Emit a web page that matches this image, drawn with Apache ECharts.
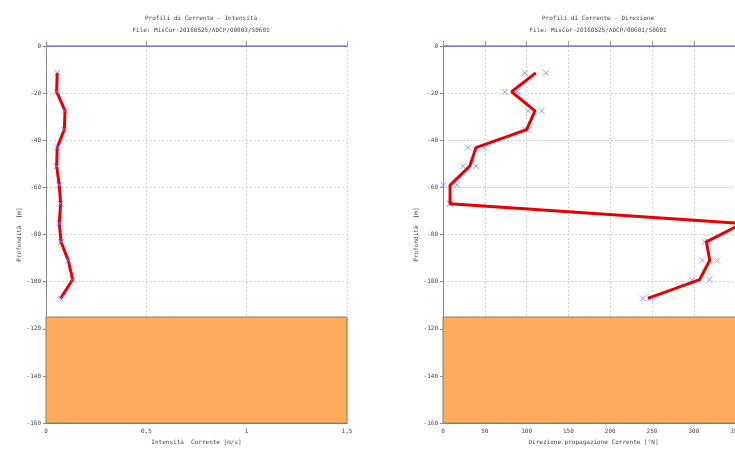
<!DOCTYPE html>
<html>
<head>
<meta charset="utf-8">
<script src="https://cdn.jsdelivr.net/npm/echarts@6/dist/echarts.min.js"></script>
<style>
html,body{margin:0;padding:0;background:#fff;width:735px;height:450px;overflow:hidden;}
#chart{width:790px;height:450px;}
</style>
</head>
<body>
<div id="chart"></div>
<script>
// Depths of the measurement bins [m]
const depths = [-11.4, -19.4, -27.5, -35.5, -43.1, -51.0, -59.0, -66.9, -75.3, -83.1, -91.0, -99.1, -107.1];
// Current intensity [m/s]
const intensity = [0.056, 0.053, 0.095, 0.091, 0.056, 0.053, 0.066, 0.073, 0.066, 0.075, 0.111, 0.133, 0.073];
// Mean current direction [°N]
const direction = [111, 82, 110, 100, 39.5, 32, 8.5, 8.4, 358, 315, 319, 307, 245];
// Individual direction samples (two per depth)
const directionA = [98, 74, 102, 98, 30, 24, 0.5, 8.4, 356, 313, 310, 298, 239];
const directionB = [123, 89, 118, 102, 49, 39.5, 17, 8.4, 360, 317, 328, 318.5, 248];
// Seabed depth [m]
const seabedTop = -115;
const seabedBottom = -160;

const titleLeft = 'Profili di Corrente - Intensità';
const titleRight = 'Profili di Corrente - Direzione';
const subtitleLeft = 'File: MisCor-20160525/ADCP/00003/S0601';
const subtitleRight = 'File: MisCor-20160525/ADCP/00601/S0601';
const xNameLeft = 'Intensità  Corrente [m/s]';
const xNameRight = 'Direzione propagazione Corrente [°N]';
const yName = 'Profondità  [m]';

const pairs = (xs) => xs.map((v, i) => [v, depths[i]]);

const FONT = 'DejaVu Sans Mono';
const TXT = '#444';
const crossPath = 'path://M0,0L10,10M10,0L0,10';

const chart = echarts.init(document.getElementById('chart'), null, {renderer: 'canvas'});

function yAxisFor(gi) {
  return {
    type: 'value', gridIndex: gi, min: -160, max: 0, interval: 20,
    name: yName, nameLocation: 'middle', nameGap: 24, nameRotate: 90,
    nameTextStyle: {fontFamily: FONT, fontSize: 6, color: TXT},
    axisLine: {show: true, lineStyle: {color: '#888', width: 1}},
    axisTick: {show: true, inside: false, length: 3, lineStyle: {color: '#888'}},
    axisLabel: {fontFamily: FONT, fontSize: 6, color: TXT, margin: 5},
    splitLine: {show: true, lineStyle: {color: '#d0d0d0', type: [2, 2], width: 1}}
  };
}
function yMirror(gi) {
  return {
    type: 'value', gridIndex: gi, min: -160, max: 0, interval: 20, position: 'right',
    axisLine: {show: true, lineStyle: {color: '#888'}},
    axisTick: {show: false}, axisLabel: {show: false}, splitLine: {show: false}
  };
}
function xAxisFor(gi, max, interval, name, fmt) {
  return {
    type: 'value', gridIndex: gi, min: 0, max: max, interval: interval,
    name: name, nameLocation: 'middle', nameGap: 14,
    nameTextStyle: {fontFamily: FONT, fontSize: 6, color: TXT},
    axisLine: {show: true, onZero: false, lineStyle: {color: '#888', width: 1}},
    axisTick: {show: false},
    axisLabel: {fontFamily: FONT, fontSize: 6, color: TXT, margin: 5, formatter: fmt},
    splitLine: {show: true, lineStyle: {color: '#d0d0d0', type: [2, 2], width: 1}}
  };
}
function xTop(gi, max, interval) {
  return {
    type: 'value', gridIndex: gi, min: 0, max: max, interval: interval, position: 'top',
    axisLine: {show: true, onZero: false, lineStyle: {color: '#888'}},
    axisTick: {show: true, inside: false, length: 5, lineStyle: {color: '#999'}},
    axisLabel: {show: false}, splitLine: {show: false}
  };
}

function decorations() {
  return {
    markLine: {
      silent: true, symbol: 'none', label: {show: false},
      lineStyle: {color: '#7f7fdf', width: 1.5, type: 'solid'},
      data: [{yAxis: 0}]
    },
    markArea: {
      silent: true,
      itemStyle: {color: '#ffad5c', borderColor: '#8a7a6a', borderWidth: 1},
      data: [[{yAxis: seabedTop}, {yAxis: seabedBottom}]]
    }
  };
}

const option = {
  animation: false,
  backgroundColor: '#fff',
  title: [
    {text: titleLeft, subtext: subtitleLeft, left: 196, top: 10, textAlign: 'center', itemGap: 6,
     textStyle: {fontFamily: FONT, fontSize: 6, fontWeight: 'normal', color: TXT},
     subtextStyle: {fontFamily: FONT, fontSize: 6, color: TXT}},
    {text: titleRight, subtext: subtitleRight, left: 593, top: 10, textAlign: 'center', itemGap: 6,
     textStyle: {fontFamily: FONT, fontSize: 6, fontWeight: 'normal', color: TXT},
     subtextStyle: {fontFamily: FONT, fontSize: 6, color: TXT}}
  ],
  grid: [
    {left: 46, top: 46, width: 301, height: 382, containLabel: false},
    {left: 443, top: 46, width: 301, height: 382, containLabel: false}
  ],
  xAxis: [
    xAxisFor(0, 1.5, 0.5, xNameLeft, v => String(v).replace('.', ',')),
    xAxisFor(1, 360, 50, xNameRight, v => v),
    xTop(0, 1.5, 0.5),
    xTop(1, 360, 50)
  ],
  yAxis: [yAxisFor(0), yAxisFor(1), yMirror(0), yMirror(1)],
  series: [
    Object.assign({
      type: 'line', xAxisIndex: 0, yAxisIndex: 0, data: pairs(intensity),
      showSymbol: false, symbol: 'none', smooth: false,
      lineStyle: {color: '#e80000', width: 3}, z: 3
    }, decorations()),
    {
      type: 'scatter', xAxisIndex: 0, yAxisIndex: 0, data: pairs(intensity),
      symbol: crossPath, symbolSize: 6,
      itemStyle: {color: 'none', borderColor: '#6f6ff5', borderWidth: 1}, z: 4
    },
    Object.assign({
      type: 'line', xAxisIndex: 1, yAxisIndex: 1, data: pairs(direction),
      showSymbol: false, symbol: 'none', smooth: false,
      lineStyle: {color: '#e80000', width: 3}, z: 4
    }, decorations()),
    {
      type: 'scatter', xAxisIndex: 1, yAxisIndex: 1, data: pairs(directionA),
      symbol: crossPath, symbolSize: 6,
      itemStyle: {color: 'none', borderColor: '#7f7ff0', borderWidth: 1}, z: 3
    },
    {
      type: 'scatter', xAxisIndex: 1, yAxisIndex: 1, data: pairs(directionB),
      symbol: crossPath, symbolSize: 6,
      itemStyle: {color: 'none', borderColor: '#7f7ff0', borderWidth: 1}, z: 3
    }
  ]
};
chart.setOption(option);
</script>
</body>
</html>
